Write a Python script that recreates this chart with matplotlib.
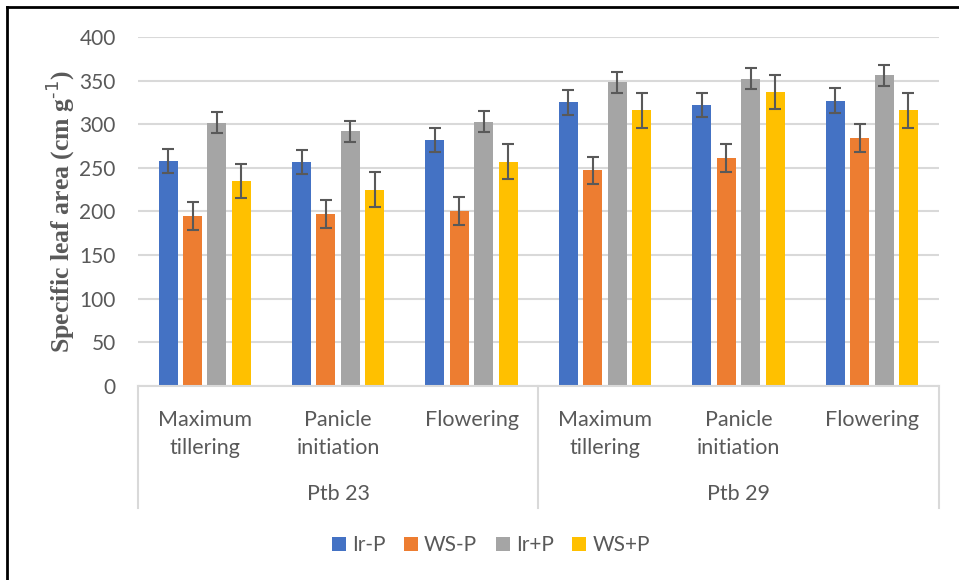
import matplotlib.pyplot as plt
import numpy as np
from matplotlib.lines import Line2D

# Growth stages for each variety
stages = ['Maximum\ntillering', 'Panicle\ninitiation', 'Flowering']
varieties = ['Ptb 23', 'Ptb 29']

# Treatment labels and colours
treatments = ['Ir-P', 'WS-P', 'Ir+P', 'WS+P']
colors = ['#4472C4', '#ED7D31', '#A5A5A5', '#FFC000']

# Specific leaf area (cm g-1), Ptb 23 stages then Ptb 29 stages
ir_minus = [258, 257, 282, 325, 322, 327]
ws_minus = [195, 197, 201, 247, 261, 284]
ir_plus = [302, 292, 303, 348, 352, 356]
ws_plus = [235, 225, 257, 316, 337, 316]

# Error bar half-widths
ir_minus_err = [14, 14, 14, 14, 14, 14]
ws_minus_err = [16, 16, 16, 16, 16, 16]
ir_plus_err = [12, 12, 12, 12, 12, 12]
ws_plus_err = [20, 20, 20, 20, 20, 20]

series = [ir_minus, ws_minus, ir_plus, ws_plus]
errors = [ir_minus_err, ws_minus_err, ir_plus_err, ws_plus_err]

plt.rcParams['font.family'] = ['Lato', 'DejaVu Sans']
text_col = '#595959'
grid_col = '#D9D9D9'

fig = plt.figure(figsize=(9.59, 5.80), dpi=100)
ax = fig.add_axes([0.1439, 0.3345, 0.8348, 0.6017])

x = np.arange(len(stages) * len(varieties))
step = 0.183
width = 0.142
for i, (vals, err, col, name) in enumerate(zip(series, errors, colors, treatments)):
    ax.bar(x + (i - 1.5) * step, vals, width, color=col, label=name, zorder=2,
           yerr=err, error_kw=dict(ecolor=text_col, elinewidth=1.5, capsize=4.5,
                                   capthick=1.5, zorder=3))

ax.set_xlim(-0.5, len(x) - 0.5)
ax.set_ylim(0, 400)
ax.set_yticks(np.arange(0, 401, 50))
ax.yaxis.grid(True, color=grid_col, linewidth=1.5, zorder=0)
ax.set_axisbelow(True)
for s in ['top', 'right', 'left']:
    ax.spines[s].set_visible(False)
ax.spines['bottom'].set_color(grid_col)
ax.spines['bottom'].set_linewidth(1.5)
ax.tick_params(axis='y', length=0, pad=16, labelsize=15, labelcolor=text_col)
ax.set_xticks([])

# Two-level category axis
xt = ax.get_xaxis_transform()
for k, xi in enumerate(x):
    ax.text(xi, -0.068, stages[k % len(stages)], transform=xt, ha='center',
            va='top', fontsize=15.5, color=text_col, linespacing=1.5)
for j, name in enumerate(varieties):
    ax.text(j * len(stages) + 1, -0.309, name, transform=xt, ha='center',
            va='center', fontsize=15.5, color=text_col)
for xs in [-0.5, 2.5, 5.5]:
    ax.add_line(Line2D([xs, xs], [0, -0.35], transform=xt, color=grid_col,
                       linewidth=1.5, clip_on=False))

fig.text(60 / 959, 1 - 212 / 580, r'Specific leaf area (cm g$^{\text{-1}}$)',
         rotation=90, ha='center', va='center', fontsize=18.5, fontweight='bold',
         family='Liberation Serif', color=text_col)

ax.legend(loc='center', bbox_to_anchor=(491 / 959, 1 - 545 / 580),
          bbox_transform=fig.transFigure, ncol=4, frameon=False, fontsize=15,
          handlelength=0.65, handleheight=0.65, handletextpad=0.3,
          columnspacing=0.9, labelcolor=text_col)

# Outer frame: top and left edges only
fig.add_artist(Line2D([7 / 959, 1], [1 - 7 / 580, 1 - 7 / 580],
                      transform=fig.transFigure, color='black', linewidth=2))
fig.add_artist(Line2D([7 / 959, 7 / 959], [0, 1 - 7 / 580],
                      transform=fig.transFigure, color='black', linewidth=2))

fig.savefig('out.png', dpi=100)
